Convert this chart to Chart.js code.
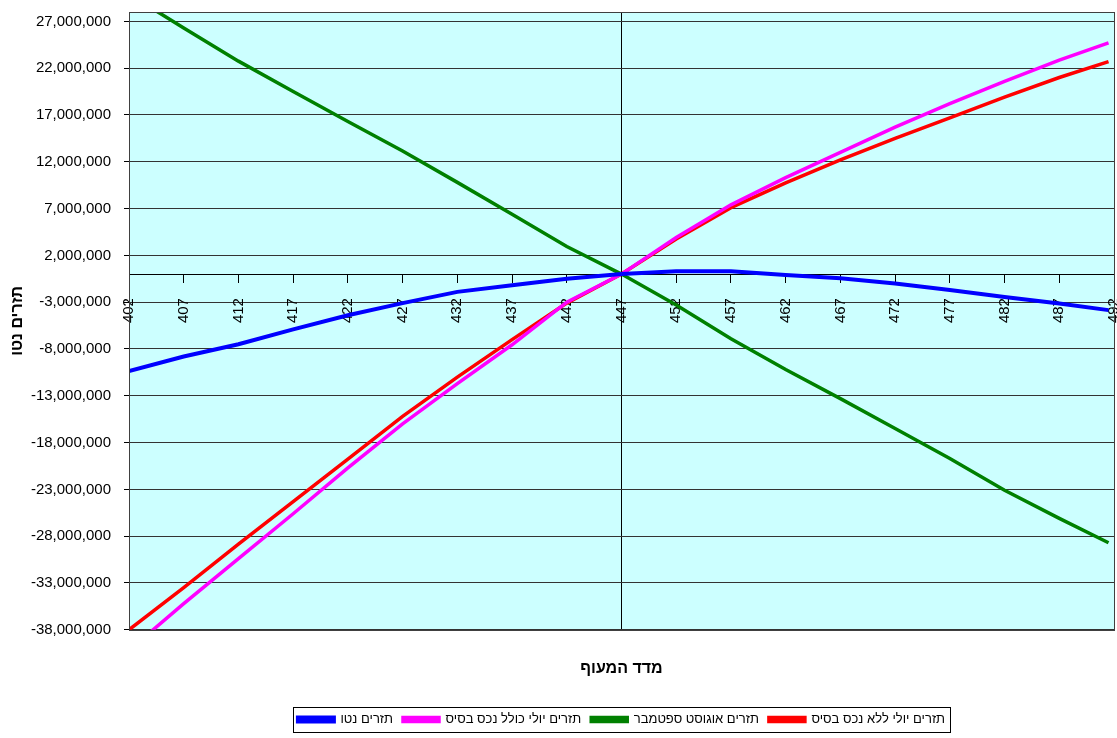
<!DOCTYPE html>
<html>
<head>
<meta charset="utf-8">
<script src="https://cdn.jsdelivr.net/npm/chart.js@4/dist/chart.umd.min.js"></script>
<style>
html,body{margin:0;padding:0;background:#fff;}
</style>
</head>
<body>
<canvas id="graph1" width="1117" height="738"></canvas>
<script>
// מדד המעוף (x) - נקודות שנקראו מהגרף
var index = [402, 407, 412, 417, 422, 427, 432, 437, 442, 447, 452, 457, 462, 467, 472, 477, 482, 487, 491.5];
// תזרים נטו
var net = [-10350000, -8800000, -7500000, -5900000, -4400000, -3100000, -1900000, -1200000, -500000, 0,
  300000, 300000, -100000, -450000, -1000000, -1700000, -2450000, -3150000, -3850000];
// תזרים יולי כולל נכס בסיס
var julyWith = [-40200000, -35200000, -30400000, -25600000, -20700000, -16000000, -11700000, -7550000, -3000000, 0,
  3900000, 7400000, 10300000, 13000000, 15700000, 18200000, 20600000, 22850000, 24700000];
// תזרים אוגוסט ספטמבר
var augSep = [29900000, 26300000, 22750000, 19500000, 16300000, 13150000, 9800000, 6400000, 2950000, 0,
  -3300000, -6900000, -10200000, -13300000, -16500000, -19700000, -23100000, -26100000, -28700000];
// תזרים יולי ללא נכס בסיס
var julyWithout = [-38000000, -33500000, -28850000, -24300000, -19760000, -15200000, -11000000, -7000000, -3100000, 0,
  3750000, 7100000, 9750000, 12200000, 14500000, 16700000, 18900000, 21000000, 22700000];

var xTicks = [402, 407, 412, 417, 422, 427, 432, 437, 442, 447, 452, 457, 462, 467, 472, 477, 482, 487, 492];
var yTicks = [-38000000, -33000000, -28000000, -23000000, -18000000, -13000000, -8000000, -3000000,
  2000000, 7000000, 12000000, 17000000, 22000000, 27000000];

var label = ["תזרים נטו", "תזרים יולי כולל נכס בסיס", "תזרים אוגוסט ספטמבר", "תזרים יולי ללא נכס בסיס"];
var col = ["#0000FF", "#FF00FF", "#008000", "#FF0000"];
var series = [net, julyWith, augSep, julyWithout];

var fam = "'Liberation Sans', Arial, 'DejaVu Sans', sans-serif";

function pts(arr) {
  return arr.map(function(v, i) { return {x: index[i], y: v}; });
}

// רקע ומסגרת לאזור הגרף ולמקרא
var frame = {
  id: 'frame',
  beforeDraw: function(chart) {
    var a = chart.chartArea, c = chart.ctx;
    c.save();
    c.fillStyle = '#CCFFFF';
    c.fillRect(a.left, a.top, a.right - a.left, a.bottom - a.top);
    c.restore();
  },
  afterDraw: function(chart) {
    var a = chart.chartArea, c = chart.ctx;
    c.save();
    c.strokeStyle = '#404040';
    c.lineWidth = 1;
    c.strokeRect(Math.round(a.left) + 0.5, Math.round(a.top) + 0.5, Math.round(a.right - a.left), Math.round(a.bottom - a.top));
    var hb = chart.legend.legendHitBoxes;
    var l = Infinity, r = -Infinity, t = Infinity, b = -Infinity;
    hb.forEach(function(h) {
      l = Math.min(l, h.left); r = Math.max(r, h.left + h.width);
      t = Math.min(t, h.top); b = Math.max(b, h.top + h.height);
    });
    c.strokeStyle = '#000';
    c.strokeRect(Math.round(l - 5) + 0.5, Math.round(t - 6) + 0.5, Math.round(r - l + 10), Math.round(b - t + 12));
    c.restore();
  }
};

var datasets = [];
for (let i = 0; i < 4; i++) {
  datasets.push({
    label: label[i],
    data: pts(series[i]),
    borderColor: col[i],
    backgroundColor: col[i],
    borderWidth: i == 0 ? 4 : 3.5,
    pointRadius: 0,
    tension: 0,
    clip: 0
  });
}

var ctx = document.querySelector("#graph1").getContext("2d");
var chart = new Chart(ctx, {
  type: "line",
  data: {datasets: datasets},
  plugins: [frame],
  options: {
    responsive: false,
    animation: false,
    devicePixelRatio: 1,
    layout: {padding: {top: 12, right: 3, bottom: 2, left: 0}},
    plugins: {
      tooltip: {enabled: false},
      title: {
        display: true,
        position: 'bottom',
        fullSize: false,
        weight: 500,
        text: 'מדד המעוף',
        color: '#000',
        font: {family: fam, size: 16, weight: 'bold'},
        padding: {top: 29, bottom: 25}
      },
      legend: {
        position: 'bottom',
        fullSize: false,
        labels: {
          color: '#000',
          font: {family: fam, size: 13},
          boxWidth: 36,
          boxHeight: 4,
          padding: 10
        }
      }
    },
    scales: {
      x: {
        type: 'linear',
        position: {y: 0},
        min: 402,
        max: 492,
        afterBuildTicks: function(s) { s.ticks = xTicks.map(function(v) { return {value: v}; }); },
        afterFit: function(s) { s.paddingLeft = 0; s.paddingRight = 0; },
        border: {display: true, color: '#000', width: 1},
        grid: {
          drawOnChartArea: true,
          color: function(c) { return c.tick && c.tick.value === 447 ? '#000' : 'rgba(0,0,0,0)'; },
          tickColor: '#000',
          tickLength: 8
        },
        ticks: {
          autoSkip: false,
          minRotation: 90,
          maxRotation: 90,
          padding: 16,
          color: '#000',
          font: {family: fam, size: 15},
          callback: function(v) { return String(v); }
        }
      },
      y: {
        position: 'left',
        min: -38000000,
        max: 28000000,
        afterBuildTicks: function(s) { s.ticks = yTicks.map(function(v) { return {value: v}; }); },
        afterFit: function(s) { s.width = 129; s.paddingTop = 0; s.paddingBottom = 0; },
        border: {display: true, color: '#000', width: 1},
        grid: {color: '#333', tickColor: '#000', tickLength: 5},
        title: {
          display: true,
          text: 'תזרים נטו',
          color: '#000',
          font: {family: fam, size: 16, weight: 'bold'},
          padding: {top: 8, bottom: 0}
        },
        ticks: {
          padding: 13,
          color: '#000',
          font: {family: fam, size: 15},
          callback: function(v) { return v.toLocaleString('en-US'); }
        }
      }
    }
  }
});
</script>
</body>
</html>
